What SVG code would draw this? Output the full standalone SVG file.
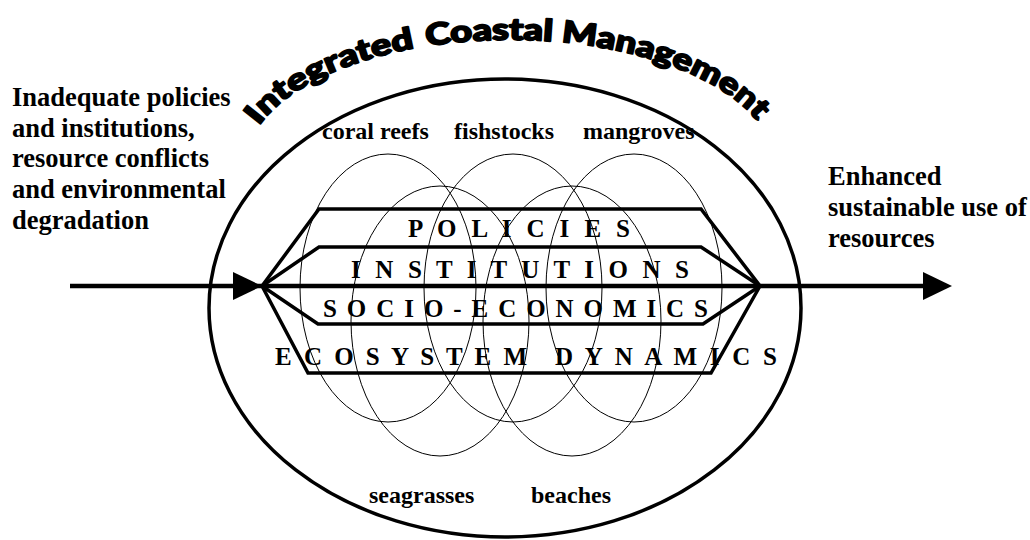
<svg xmlns="http://www.w3.org/2000/svg" width="1030" height="540" viewBox="0 0 1030 540">
<style>
.side{font-family:"Liberation Serif","Times New Roman",serif;font-weight:bold;font-size:26.5px;fill:#000}
.res{font-family:"Liberation Serif","Times New Roman",serif;font-weight:bold;font-size:24px;fill:#000}
.band{font-family:"Liberation Serif","Times New Roman",serif;font-weight:bold;font-size:25px;fill:#000}
.title{font-family:"Lato","DejaVu Sans",sans-serif;font-weight:900;font-size:30px;fill:#000;stroke:#000;stroke-width:1.8;stroke-linejoin:round}
.thin{fill:none;stroke:#000;stroke-width:1}
.thick{fill:none;stroke:#000;stroke-width:3.5;stroke-linejoin:miter}
</style>
<defs>
<path id="arc" d="M259,126 A265,127 0 0,1 761,126"/>
</defs>
<rect width="1030" height="540" fill="#fff"/>

<g id="icm-frame">
<ellipse cx="505" cy="308" rx="296" ry="229" fill="none" stroke="#000" stroke-width="3.5"/>
<text class="title"><textPath href="#arc" startOffset="0" textLength="178" lengthAdjust="spacingAndGlyphs">Integrated</textPath></text>
<text class="title"><textPath href="#arc" startOffset="190" textLength="126" lengthAdjust="spacingAndGlyphs">Coastal</textPath></text>
<text class="title"><textPath href="#arc" startOffset="325" textLength="216" lengthAdjust="spacingAndGlyphs">Management</textPath></text>
</g>

<g id="coral-reefs">
<ellipse class="thin" cx="388" cy="288" rx="88" ry="134"/>
<text class="res" x="322" y="139">coral reefs</text>
</g>
<g id="fishstocks">
<ellipse class="thin" cx="513" cy="288" rx="89" ry="134"/>
<text class="res" x="454" y="139">fishstocks</text>
</g>
<g id="mangroves">
<ellipse class="thin" cx="634" cy="288" rx="88" ry="134"/>
<text class="res" x="583" y="139">mangroves</text>
</g>
<g id="seagrasses">
<ellipse class="thin" cx="440" cy="321" rx="89" ry="135"/>
<text class="res" x="369" y="503">seagrasses</text>
</g>
<g id="beaches">
<ellipse class="thin" cx="572" cy="321" rx="89" ry="135"/>
<text class="res" x="531" y="503">beaches</text>
</g>

<g id="ecosystem-dynamics">
<polygon class="thick" points="262,286 319,209 701,209 760,286 711,373 308,373"/>
<text class="band" x="275" y="365" textLength="252" lengthAdjust="spacing">E C O S Y S T E M</text>
<text class="band" x="555" y="365" textLength="222" lengthAdjust="spacing">D Y N A M I C S</text>
</g>
<g id="policies">
<text class="band" x="408" y="237" textLength="222" lengthAdjust="spacing">P O L I C I E S</text>
</g>
<g id="institutions">
<polyline class="thick" points="262,286 319,247 701,247 760,286"/>
<text class="band" x="351" y="278" textLength="338" lengthAdjust="spacing">I N S T I T U T I O N S</text>
</g>
<g id="socio-economics">
<polyline class="thick" points="262,286 318,324 703,324 760,286"/>
<text class="band" x="323" y="317" textLength="385" lengthAdjust="spacing">S O C I O - E C O N O M I C S</text>
</g>

<g id="problem">
<text class="side" x="12" y="106">Inadequate policies</text>
<text class="side" x="12" y="137">and institutions,</text>
<text class="side" x="12" y="167">resource conflicts</text>
<text class="side" x="12" y="198">and environmental</text>
<text class="side" x="12" y="229">degradation</text>
</g>
<g id="outcome">
<text class="side" x="828" y="185">Enhanced</text>
<text class="side" x="828" y="216">sustainable use of</text>
<text class="side" x="828" y="247">resources</text>
</g>

<g id="connectors">
<line x1="70" y1="286" x2="930" y2="286" stroke="#000" stroke-width="4.5"/>
<polygon points="233,272 262,286 233,300" fill="#000"/>
<polygon points="923,272 952,286 923,300" fill="#000"/>
</g>
</svg>
